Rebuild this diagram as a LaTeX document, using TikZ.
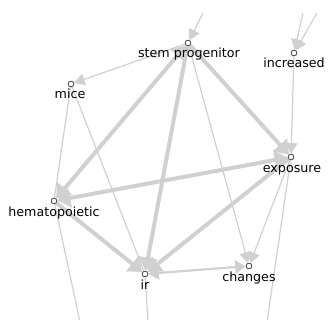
\documentclass[tikz,border=0pt]{standalone}
\usepackage{fontspec}
\setmainfont{DejaVu Sans}
\usetikzlibrary{arrows.meta}
\definecolor{edgegray}{HTML}{D0D0D0}
\definecolor{ringgray}{HTML}{4A4A4A}
\begin{document}
\begin{tikzpicture}[x=0.75pt,y=-0.75pt,
  vertex/.style={circle,draw=ringgray,fill=white,line width=0.55pt,inner sep=0pt,minimum size=4.2pt},
  vlabel/.style={font=\fontsize{9.5}{11}\selectfont,text=black,inner sep=0pt,anchor=base},
  link/.style={draw=edgegray,line width=0.9pt},
  medium/.style={draw=edgegray,line width=1.6pt},
  heavy/.style={draw=edgegray,line width=3pt},
  tipthin/.style={-{Triangle[length=8pt,width=9pt]}},
  tipthick/.style={-{Triangle[length=10pt,width=14pt]}},
  boththick/.style={{Triangle[length=10pt,width=14pt]}-{Triangle[length=10pt,width=14pt]}},
  bothmed/.style={{Triangle[length=8pt,width=10pt]}-{Triangle[length=8pt,width=10pt]}}
]
\useasboundingbox (0,0) rectangle (331,320);

% vertices
\node[vertex] (stem) at (188,43) {};
\node[vertex] (incr) at (294,53) {};
\node[vertex] (mice) at (71,84) {};
\node[vertex] (expo) at (291,157) {};
\node[vertex] (hema) at (54,201) {};
\node[vertex] (chg)  at (249,266) {};
\node[vertex] (ir)   at (145,274) {};

% loose ends of edges leaving the frame
\coordinate (topA) at (203,13);
\coordinate (topB) at (303,13);
\coordinate (topC) at (317,13);
\coordinate (botH) at (80,322);
\coordinate (botI) at (148,322);
\coordinate (botE) at (267,322);

% thin edges
\draw[link] (mice) -- (hema);
\draw[link] (mice) -- (ir);
\draw[link] (hema) -- (botH);
\draw[link] (ir) -- (botI);
\draw[link] (expo) -- (botE);
\draw[link,tipthin] (topA) -- (stem);
\draw[link,tipthin] (topB) -- (incr);
\draw[link,tipthin] (topC) -- (incr);
\draw[link,tipthin] (stem) -- (mice);
\draw[link,tipthin] (incr) -- (expo);
\draw[link,tipthin] (stem) -- (chg);
\draw[link,tipthin] (expo) -- (chg);
\draw[medium,bothmed] (ir) -- (chg);

% heavy edges
\draw[heavy,tipthick] (stem) -- (expo);
\draw[heavy,tipthick] (stem) -- (ir);
\draw[heavy,boththick] (stem) -- (hema);
\draw[heavy,boththick] (expo) -- (hema);
\draw[heavy,tipthick] (expo) -- (ir);
\draw[heavy,tipthick] (hema) -- (ir);

% vertices redrawn on top of the edges
\foreach \v in {stem,incr,mice,expo,hema,chg,ir}
  \node[vertex] at (\v) {};

% labels, baseline 15px below each vertex
\node[vlabel] (lstem) at (189,58) {stem progenitor};
\node[vlabel] (lincr) at (294,68) {increased};
\node[vlabel] (lmice) at (70,99) {mice};
\node[vlabel] (lexpo) at (292,172) {exposure};
\node[vlabel] (lhema) at (54,216) {hematopoietic};
\node[vlabel] (lchg)  at (249,281) {changes};
\node[vlabel] (lir)   at (145,289) {ir};
\end{tikzpicture}
\end{document}
